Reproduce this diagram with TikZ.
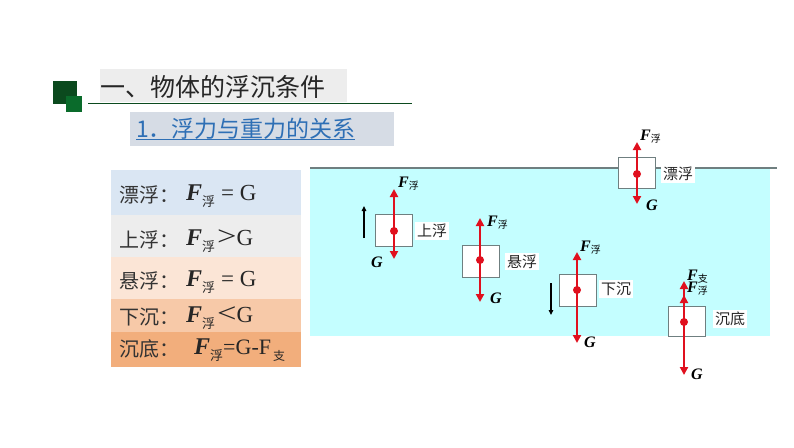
\documentclass[tikz,border=0pt]{standalone}
\usepackage{fontspec}
\setmainfont{Liberation Serif}
\newfontfamily\cjk{Noto Sans CJK SC}
\usetikzlibrary{arrows.meta}
\definecolor{waterc}{HTML}{C4FEFF}
\definecolor{redc}{HTML}{E0101E}
\definecolor{linec}{HTML}{6F7F80}
\definecolor{darkg}{HTML}{0B4A1E}
\definecolor{lightg}{HTML}{0A6B2B}
\definecolor{bluet}{HTML}{2E6FB5}
\definecolor{subbg}{HTML}{D6DCE5}
\definecolor{rowa}{HTML}{DAE6F3}
\definecolor{rowb}{HTML}{EDEDED}
\definecolor{rowc}{HTML}{FBE5D6}
\definecolor{rowd}{HTML}{F7C9A8}
\definecolor{rowe}{HTML}{F2AE7C}
\tikzset{
  body/.style={draw=linec,line width=0.9pt,fill=white,minimum width=37pt,minimum height=#1,inner sep=0pt,outer sep=0pt},
  force/.style={draw=redc,line width=2.4pt,-{Triangle[length=8pt,width=8pt]}},
  move/.style={draw=black,line width=1.1pt,-{Triangle[length=5pt,width=4.5pt]}},
  dotc/.style={circle,fill=redc,minimum size=8pt,inner sep=0pt},
  tag/.style={fill=white,inner sep=2pt,font=\cjk\fontsize{15}{15}\selectfont,text=black!85},
  flab/.style={inner sep=0pt,anchor=west,font=\fontsize{16}{16}\selectfont\bfseries\itshape},
  rowtxt/.style={inner sep=0pt,anchor=west,font=\cjk\fontsize{20}{20}\selectfont,text=black!80},
  formula/.style={inner sep=0pt,anchor=west,font=\rmfamily\fontsize{23}{23}\selectfont,text=black!85},
}
\newcommand{\Fsub}[1]{{\fontsize{24}{24}\selectfont\itshape\bfseries F}{\raisebox{-6pt}{\cjk\fontsize{13}{13}\selectfont #1}}}
\newcommand{\Flab}[1]{F{\raisebox{-2pt}{\cjk\mdseries\upshape\fontsize{10}{10}\selectfont #1}}}
\begin{document}
\begin{tikzpicture}[x=1pt,y=-1pt]
\useasboundingbox (0,0) rectangle (794,447);
% title
\fill[black!7] (100,69) rectangle (347,102);
\node[inner sep=0pt,anchor=west,font=\cjk\fontsize{25}{25}\selectfont,text=black!85] (title) at (100,87) {一、物体的浮沉条件};
\fill[darkg] (53,81) rectangle (77,104);
\fill[lightg] (66,96) rectangle (82,112);
\draw[darkg,line width=1pt] (88,103) -- (412,103);
% subtitle
\fill[subbg] (130,112) rectangle (394,146);
\node[inner sep=0pt,anchor=west,font=\cjk\fontsize{23}{23}\selectfont,text=bluet] (sub) at (136,129) {1．浮力与重力的关系};
\draw[bluet,line width=0.8pt] (136,139) -- (355,139);
% table
\fill[rowa] (111,170) rectangle (301,215);
\fill[rowb] (111,215) rectangle (301,257);
\fill[rowc] (111,257) rectangle (301,299);
\fill[rowd] (111,299) rectangle (301,332);
\fill[rowe] (111,332) rectangle (301,367);
\node[rowtxt] (ra) at (119,195) {漂浮：};
\node[rowtxt] (rb) at (119,240) {上浮：};
\node[rowtxt] (rc) at (119,281) {悬浮：};
\node[rowtxt] (rd) at (119,317) {下沉：};
\node[rowtxt] (re) at (119,349) {沉底：};
\node[formula] (fa) at (186,196) {\Fsub{浮}\hspace{6pt}= G};
\node[formula] (fb) at (186,241) {\Fsub{浮}\hspace{2pt}\scalebox{1.5}[1.2]{>}G};
\node[formula] (fc) at (186,282) {\Fsub{浮}\hspace{6pt}= G};
\node[formula] (fd) at (186,318) {\Fsub{浮}\hspace{2pt}\scalebox{1.5}[1.2]{<}G};
\node[formula] (fe) at (194,350) {\Fsub{浮}{\fontsize{22}{22}\selectfont=G-F}{\raisebox{-6pt}{\cjk\fontsize{12}{12}\selectfont\,支}}};
% water
\fill[waterc] (310,168) rectangle (770,336);
\draw[linec,line width=1.3pt] (310,168) -- (777,168);
% floating
\node[body=31pt] (b1) at (636.5,172.5) {};
\node[tag] (t1) at (678,174) {漂浮};
\coordinate (u1) at (637,142); \coordinate (d1) at (637,204); \coordinate (c1) at (637,174);
\draw[force] (c1) -- (u1); \draw[force] (c1) -- (d1);
\node[dotc] at (c1) {};
\node[flab] at (640,137) {\Flab{浮}};
\node[flab] at (646,205) {G};
% rising
\node[body=32pt] (b2) at (393.5,230) {};
\node[tag] (t2) at (432,231) {上浮};
\coordinate (u2) at (394,189); \coordinate (d2) at (394,259); \coordinate (c2) at (394,231);
\draw[force] (c2) -- (u2); \draw[force] (c2) -- (d2);
\node[dotc] at (c2) {};
\node[flab] at (398,184) {\Flab{浮}};
\node[flab] at (371,262) {G};
\coordinate (ma) at (364,238); \coordinate (mb) at (364,206);
\draw[move] (ma) -- (mb);
% suspended
\node[body=32pt] (b3) at (480.5,261) {};
\node[tag] (t3) at (522,261.5) {悬浮};
\coordinate (u3) at (480,218); \coordinate (d3) at (480,302); \coordinate (c3) at (480,260);
\draw[force] (c3) -- (u3); \draw[force] (c3) -- (d3);
\node[dotc] at (c3) {};
\node[flab] at (487,223) {\Flab{浮}};
\node[flab] at (490,298) {G};
% sinking
\node[body=32pt] (b4) at (577.5,290.5) {};
\node[tag] (t4) at (616,289) {下沉};
\coordinate (u4) at (577,252); \coordinate (d4) at (577,343); \coordinate (c4) at (577,290);
\draw[force] (c4) -- (u4); \draw[force] (c4) -- (d4);
\node[dotc] at (c4) {};
\node[flab] at (580,248) {\Flab{浮}};
\node[flab] at (584,342) {G};
\coordinate (mc) at (551,283); \coordinate (md) at (551,315);
\draw[move] (mc) -- (md);
% bottom
\node[body=30pt] (b5) at (686.5,321) {};
\node[tag] (t5) at (730,319) {沉底};
\coordinate (u5) at (684,281); \coordinate (v5) at (684,295); \coordinate (d5) at (684,375); \coordinate (c5) at (684,322);
\draw[force] (c5) -- (u5); \draw[force] (c5) -- (v5); \draw[force] (c5) -- (d5);
\node[dotc] at (c5) {};
\node[flab] at (687,277) {\Flab{支}};
\node[flab] at (687,289) {\Flab{浮}};
\node[flab] at (691,374) {G};
\end{tikzpicture}
\end{document}
